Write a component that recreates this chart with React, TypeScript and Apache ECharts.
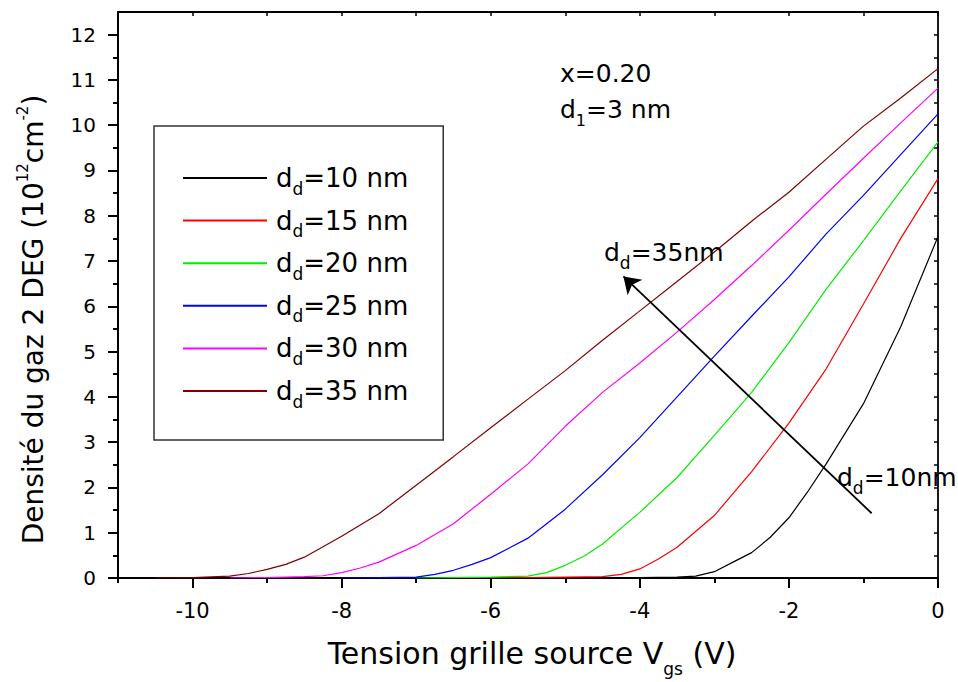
import React, { useEffect, useRef } from "react";
import * as echarts from "echarts";

const FONT = "DejaVu Sans";

// ---- data ----
const thicknessNm = ["10", "15", "20", "25", "30", "35"];
const colors = ["#000000", "#ff0000", "#00ee00", "#0000ff", "#ff00ff", "#800000"];

const vgs10 = [-5, -4.5, -4, -3.5, -3.25, -3, -2.75, -2.5, -2.25, -2, -1.75, -1.5, -1, -0.5, 0];
const n10 = [0, 0.01, 0.01, 0.02, 0.04, 0.14, 0.35, 0.56, 0.9, 1.33, 1.9, 2.52, 3.85, 5.55, 7.54];

const vgs15 = [-6, -5.5, -5, -4.5, -4.25, -4, -3.75, -3.5, -3, -2.5, -2, -1.5, -1, -0.5, 0];
const n15 = [0, 0.01, 0.02, 0.03, 0.08, 0.2, 0.42, 0.68, 1.38, 2.35, 3.42, 4.62, 6.05, 7.5, 8.82];

const vgs20 = [-7, -6.5, -6, -5.5, -5.25, -5, -4.75, -4.5, -4, -3.5, -3, -2.5, -2, -1.5, -1, -0.5, 0];
const n20 = [0, 0.01, 0.02, 0.04, 0.12, 0.28, 0.48, 0.75, 1.45, 2.22, 3.15, 4.1, 5.2, 6.38, 7.45, 8.55, 9.63];

const vgs25 = [-8, -7.5, -7, -6.75, -6.5, -6.25, -6, -5.5, -5, -4.5, -4, -3.5, -3, -2.5, -2, -1.5, -1, -0.5, 0];
const n25 = [0, 0.01, 0.02, 0.08, 0.17, 0.3, 0.45, 0.88, 1.52, 2.28, 3.1, 4.0, 4.9, 5.78, 6.65, 7.6, 8.45, 9.35, 10.25];

const vgs30 = [-9.5, -9, -8.5, -8.25, -8, -7.75, -7.5, -7, -6.5, -6, -5.5, -5, -4.5, -4, -3.5, -3, -2.5, -2, -1.5, -1, -0.5, 0];
const n30 = [0, 0.01, 0.03, 0.05, 0.12, 0.22, 0.35, 0.72, 1.2, 1.85, 2.52, 3.35, 4.1, 4.75, 5.43, 6.15, 6.9, 7.68, 8.48, 9.27, 10.05, 10.82];

const vgs35 = [-10.5, -10, -9.5, -9.25, -9, -8.75, -8.5, -8, -7.5, -7, -6.5, -6, -5.5, -5, -4.5, -4, -3.5, -3, -2.5, -2, -1.5, -1, -0.5, 0];
const n35 = [0, 0.01, 0.04, 0.1, 0.19, 0.3, 0.46, 0.92, 1.42, 2.05, 2.68, 3.32, 3.95, 4.58, 5.25, 5.9, 6.55, 7.2, 7.88, 8.52, 9.25, 9.98, 10.6, 11.25];

const vgsList = [vgs10, vgs15, vgs20, vgs25, vgs30, vgs35];
const nList = [n10, n15, n20, n25, n30, n35];

const xMajorTicks = [-10, -8, -6, -4, -2, 0];
const xMinorTicks = [-11, -9, -7, -5, -3, -1];
const xTopTicks = [-11, -10, -9, -8, -7, -6, -5, -4, -3, -2, -1, 0];
const yMajorTicks = [0, 1, 2, 3, 4, 5, 6, 7, 8, 9, 10, 11, 12];
const yMinorTicks = [0.5, 1.5, 2.5, 3.5, 4.5, 5.5, 6.5, 7.5, 8.5, 9.5, 10.5, 11.5];
const yRightTicks = [0, 0.5, 1, 1.5, 2, 2.5, 3, 3.5, 4, 4.5, 5, 5.5, 6, 6.5, 7, 7.5, 8, 8.5, 9, 9.5, 10, 10.5, 11, 11.5, 12, 12.5];

const arrowFrom = [-0.89, 1.43];
const arrowTo = [-4.22, 6.66];

// ---- styles ----
const mainTok = (fs: number, top = 0) => ({
  fontSize: fs,
  lineHeight: Math.round(fs * 1.164),
  fontFamily: FONT,
  color: "#000",
  verticalAlign: "top" as const,
  padding: [top, 0, 0, 0],
});
const subTok = (fs: number, drop: number) => ({
  fontSize: fs,
  lineHeight: 4,
  fontFamily: FONT,
  color: "#000",
  verticalAlign: "top" as const,
  padding: [drop, 0, 0, 0],
});

const annoRich = {
  a: mainTok(25, 0),
  s: subTok(16, 15),
  t: subTok(17, 14),
};

export default function App() {
  const ref = useRef<HTMLDivElement>(null);

  useEffect(() => {
    if (!ref.current) return;
    const chart = echarts.init(ref.current, null, { renderer: "svg" });

    const series: any[] = thicknessNm.map((t, i) => ({
      name: `d_d=${t} nm`,
      type: "line",
      xAxisIndex: 0,
      yAxisIndex: 0,
      symbol: "none",
      smooth: false,
      lineStyle: { color: colors[i], width: 1.2 },
      itemStyle: { color: colors[i] },
      data: vgsList[i].map((v, k) => [v, nList[i][k]]),
      z: 3,
    }));
    series[0].markLine = {
      silent: true,
      symbol: ["none", "arrow"],
      symbolSize: 16,
      label: { show: false },
      lineStyle: { color: "#000", width: 1.8, type: "solid" },
      data: [[{ coord: arrowFrom }, { coord: arrowTo }]],
    };

    const option: any = {
      animation: false,
      backgroundColor: "#fff",
      textStyle: { fontFamily: FONT },
      grid: { left: 118, right: 20, top: 12, bottom: 100, containLabel: false },
      legend: {
        orient: "vertical",
        left: 154,
        top: 126,
        padding: [39, 35, 30, 28],
        itemGap: 10.6,
        itemWidth: 84,
        itemHeight: 2,
        itemStyle: { opacity: 0 },
        backgroundColor: "#fff",
        borderColor: "#333",
        borderWidth: 1.5,
        borderRadius: 0,
        selectedMode: false,
        data: thicknessNm.map((t) => `d_d=${t} nm`),
        formatter: (name: string) => `{a|d}{t|d}{a|${name.slice(3)}}`,
        textStyle: {
          padding: [4, 0, 0, 4],
          rich: { a: mainTok(26, 0), t: subTok(17, 15) },
        },
      },
      xAxis: [
        {
          type: "value",
          position: "bottom",
          min: -11,
          max: 0,
          name: "{a|Tension grille source V}{s|gs}{a| (V)}",
          nameLocation: "middle",
          nameGap: 60,
          nameTextStyle: {
            padding: [0, 0, 0, 8],
            rich: { a: mainTok(30, 0), s: subTok(17, 22) },
          },
          axisLine: { show: true, onZero: false, lineStyle: { color: "#000", width: 2 } },
          axisTick: { show: true, inside: false, length: 10, customValues: xMajorTicks, lineStyle: { color: "#000", width: 2 } },
          axisLabel: { show: true, customValues: xMajorTicks, margin: 22, fontSize: 21, fontFamily: FONT, color: "#000" },
          splitLine: { show: false },
        },
        {
          type: "value",
          position: "top",
          min: -11,
          max: 0,
          axisLine: { show: true, onZero: false, lineStyle: { color: "#000", width: 1.8 } },
          axisTick: { show: true, inside: true, length: 4, customValues: xTopTicks, lineStyle: { color: "#000", width: 1.5 } },
          axisLabel: { show: false },
          splitLine: { show: false },
        },
        {
          type: "value",
          position: "bottom",
          min: -11,
          max: 0,
          axisLine: { show: false, onZero: false },
          axisTick: { show: true, inside: false, length: 5, customValues: xMinorTicks, lineStyle: { color: "#000", width: 2 } },
          axisLabel: { show: false },
          splitLine: { show: false },
        },
      ],
      yAxis: [
        {
          type: "value",
          position: "left",
          min: 0,
          max: 12.5,
          name: "{a|Densité du gaz 2 DEG (10}{p|12}{a|cm}{p|-2}{a|)}",
          nameLocation: "middle",
          nameRotate: 90,
          nameGap: 70,
          nameTextStyle: {
            padding: [0, 49, 0, 0],
            rich: {
              a: mainTok(28, 4),
              p: { fontSize: 15, lineHeight: 15, fontFamily: FONT, color: "#000", verticalAlign: "top" },
            },
          },
          axisLine: { show: true, onZero: false, lineStyle: { color: "#000", width: 2 } },
          axisTick: { show: true, inside: false, length: 10, customValues: yMajorTicks, lineStyle: { color: "#000", width: 2 } },
          axisLabel: { show: true, customValues: yMajorTicks, margin: 22, fontSize: 20, fontFamily: FONT, color: "#000" },
          splitLine: { show: false },
        },
        {
          type: "value",
          position: "right",
          min: 0,
          max: 12.5,
          axisLine: { show: true, onZero: false, lineStyle: { color: "#000", width: 1.8 } },
          axisTick: { show: true, inside: true, length: 4, customValues: yRightTicks, lineStyle: { color: "#000", width: 1.5 } },
          axisLabel: { show: false },
          splitLine: { show: false },
        },
        {
          type: "value",
          position: "left",
          min: 0,
          max: 12.5,
          axisLine: { show: false, onZero: false },
          axisTick: { show: true, inside: false, length: 5, customValues: yMinorTicks, lineStyle: { color: "#000", width: 2 } },
          axisLabel: { show: false },
          splitLine: { show: false },
        },
      ],
      graphic: [
        { type: "text", x: 560, y: 61, z: 10, style: { text: "{a|x=0.20}", rich: annoRich, align: "left", verticalAlign: "top" } },
        { type: "text", x: 560, y: 97, z: 10, style: { text: "{a|d}{s|1}{a|=3 nm}", rich: annoRich, align: "left", verticalAlign: "top" } },
        { type: "text", x: 604, y: 240, z: 10, style: { text: "{a|d}{t|d}{a|=35nm}", rich: annoRich, align: "left", verticalAlign: "top" } },
        { type: "text", x: 837, y: 465, z: 10, style: { text: "{a|d}{t|d}{a|=10nm}", rich: annoRich, align: "left", verticalAlign: "top" } },
      ],
      series,
    };

    chart.setOption(option);
    return () => chart.dispose();
  }, []);

  return <div ref={ref} style={{ position: "fixed", left: 0, top: 0, width: 958, height: 682 }} />;
}
